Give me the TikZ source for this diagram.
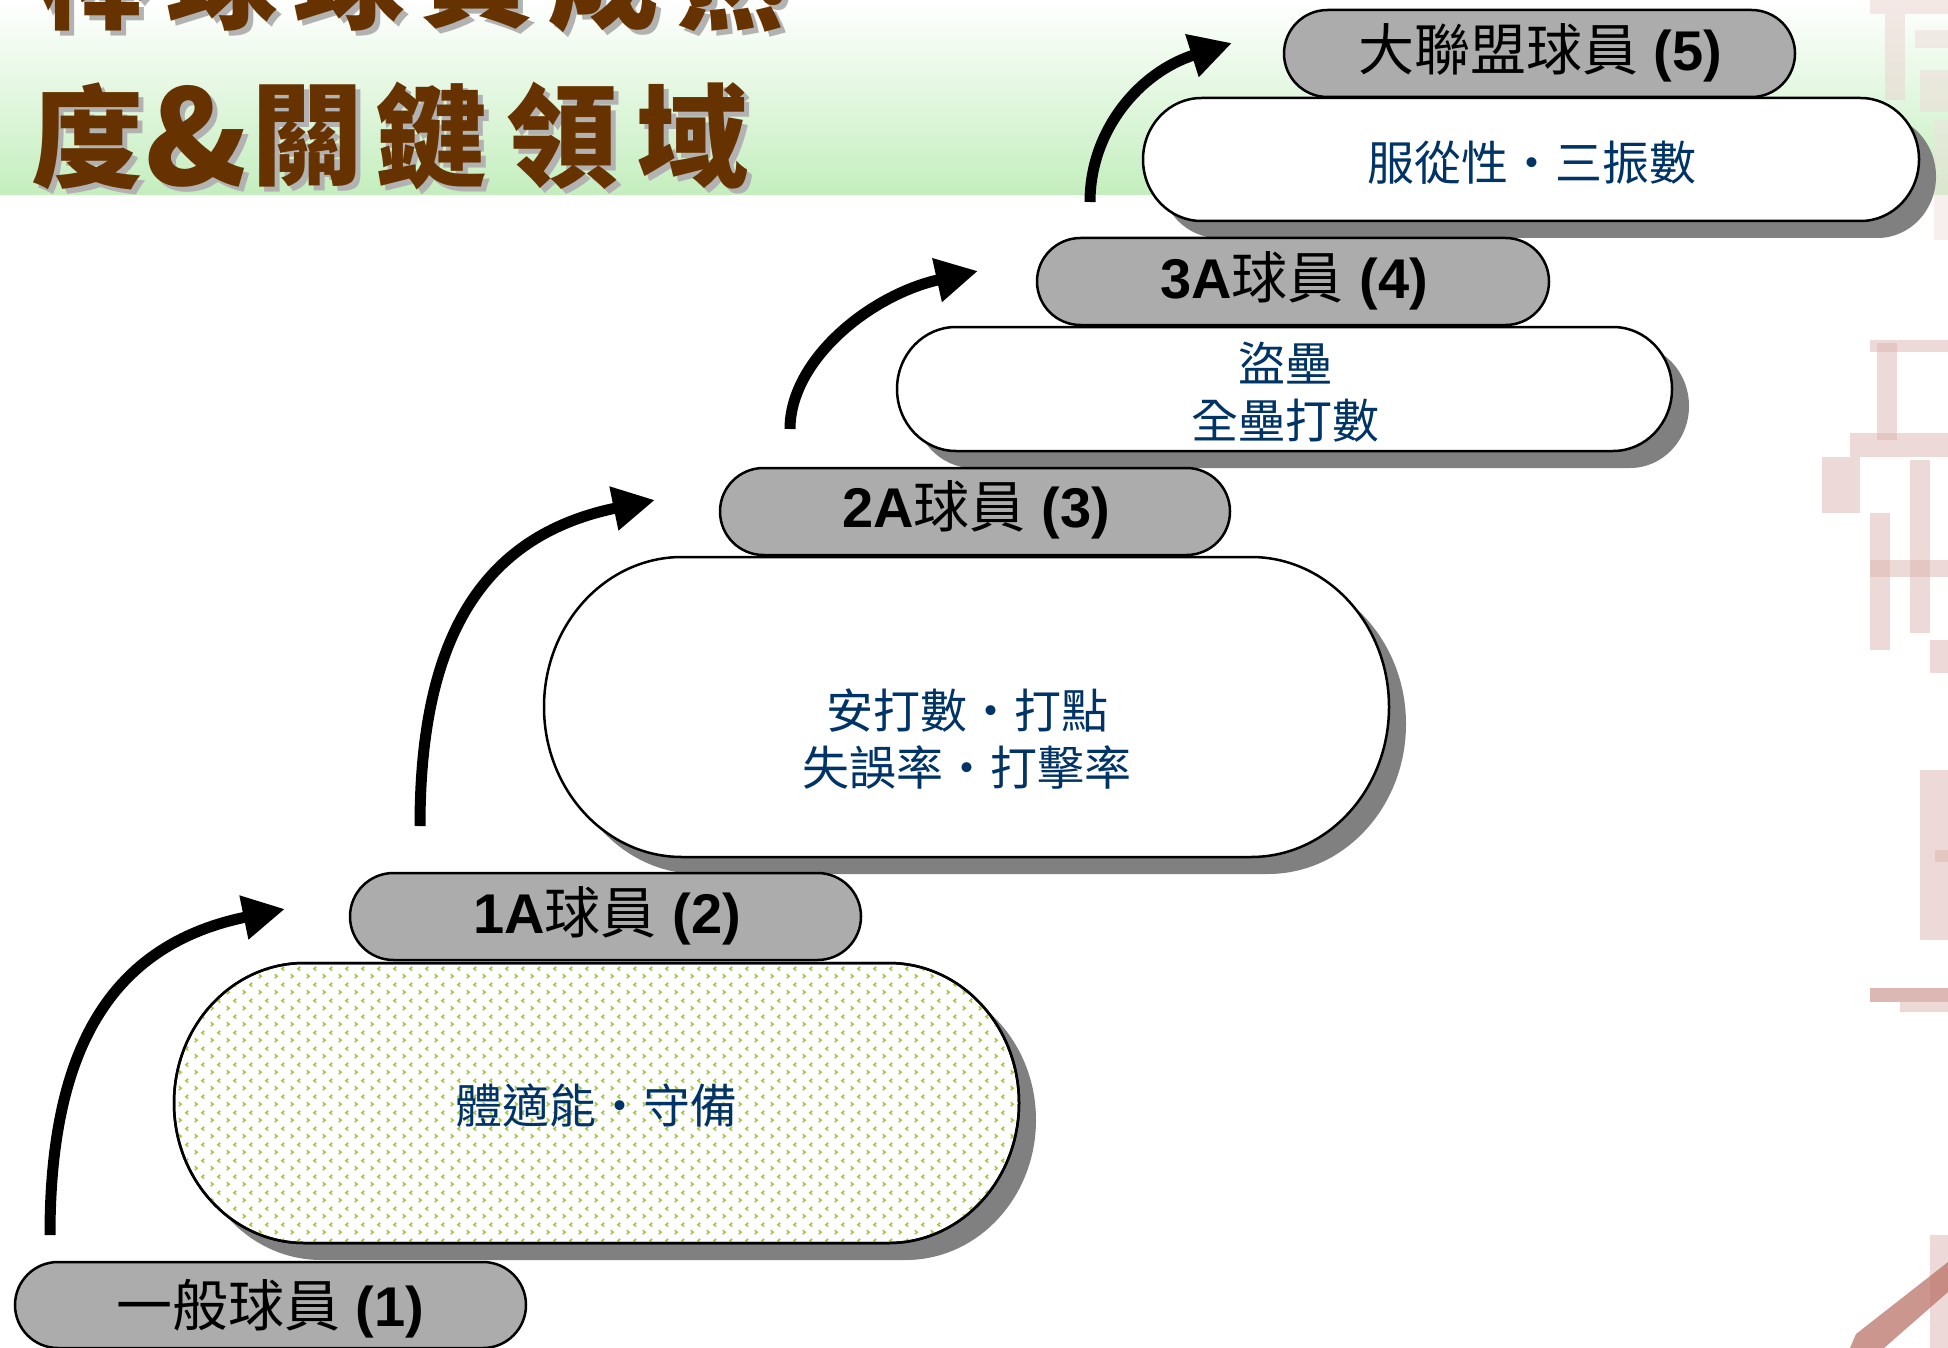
\documentclass[tikz,border=0pt]{standalone}
\usepackage{fontspec}
\setmainfont{Liberation Sans}
\newfontfamily\cjk{Noto Sans CJK TC}
\usetikzlibrary{arrows.meta,patterns}
\definecolor{bandg}{RGB}{196,238,190}
\definecolor{pillg}{RGB}{172,172,172}
\definecolor{shad}{RGB}{128,128,128}
\definecolor{navy}{RGB}{0,51,102}
\definecolor{brownt}{RGB}{102,51,0}
\definecolor{tshad}{RGB}{178,178,178}
\definecolor{chevc}{RGB}{160,205,40}
\definecolor{stampa}{RGB}{220,180,176}
\definecolor{stampb}{RGB}{185,115,105}

\pgfdeclarepatternformonly{chev}{\pgfqpoint{0pt}{0pt}}{\pgfqpoint{16pt}{16pt}}{\pgfqpoint{16pt}{16pt}}{%
 \pgfsetlinewidth{1.6pt}%
 \pgfpathmoveto{\pgfqpoint{3pt}{2pt}}\pgfpathlineto{\pgfqpoint{5.5pt}{4pt}}\pgfpathlineto{\pgfqpoint{3pt}{6pt}}%
 \pgfpathmoveto{\pgfqpoint{13pt}{10pt}}\pgfpathlineto{\pgfqpoint{10.5pt}{12pt}}\pgfpathlineto{\pgfqpoint{13pt}{14pt}}%
 \pgfusepath{stroke}}

% stadium: options, end factor, x1, y1, x2, y2 (image coordinates)
\newcommand\stadium[6]{%
 \pgfmathsetmacro\sry{(#6-#4)/2}%
 \pgfmathsetmacro\srx{#2*\sry}%
 \path[#1] (#3+\srx,#4) -- (#5-\srx,#4)
   arc[start angle=90,end angle=-90,x radius=\srx pt,y radius=\sry pt]
   -- (#3+\srx,#6)
   arc[start angle=270,end angle=90,x radius=\srx pt,y radius=\sry pt] -- cycle;}

\begin{document}
\begin{tikzpicture}[x=1pt,y=-1pt,
  pillstyle/.style={fill=pillg,draw=black,line width=2.5pt},
  bodystyle/.style={fill=white,draw=black,line width=2.5pt},
  shadstyle/.style={fill=shad,shift={(17,17)}},
  pilltxt/.style={inner sep=0pt,text=black,font=\fontsize{56}{60}\selectfont},
  bodytxt/.style={inner sep=0pt,text=navy,align=center,font=\cjk\fontsize{47}{57}\selectfont},
  ttl/.style={inner sep=0pt,text=brownt,font=\cjk\bfseries\fontsize{112}{120}\selectfont},
  ttlsh/.style={inner sep=0pt,text=tshad,font=\cjk\bfseries\fontsize{112}{120}\selectfont},
  amp/.style={inner sep=0pt,text=brownt,font=\cjk\bfseries\fontsize{132}{140}\selectfont},
  ampsh/.style={inner sep=0pt,text=tshad,font=\cjk\bfseries\fontsize{132}{140}\selectfont},
  arw/.style={line width=11pt,-{Triangle[length=42pt,width=42pt]}}]
\useasboundingbox (0,0) rectangle (1948,1348);
\clip (0,0) rectangle (1948,1348);
\fill[white] (0,0) rectangle (1948,1348);

% green title band
\shade[top color=white,bottom color=bandg] (0,0) rectangle (1948,195);

% faded seal at the right edge
\begin{scope}[opacity=0.5]
\fill[stampa!60] (1870,0) rectangle (1948,14);
\fill[stampa!60] (1885,14) rectangle (1905,100);
\fill[stampa!50] (1915,30) rectangle (1948,48);
\fill[stampa!50] (1920,70) rectangle (1948,112);
\fill[stampa!40] (1934,120) rectangle (1948,240);
\fill[stampa] (1870,340) rectangle (1948,352);
\fill[stampa] (1877,343) rectangle (1897,440);
\fill[stampa] (1850,433) rectangle (1948,457);
\fill[stampa] (1822,457) rectangle (1860,513);
\fill[stampa] (1870,513) rectangle (1890,650);
\fill[stampa] (1910,460) rectangle (1930,633);
\fill[stampa] (1870,560) rectangle (1948,577);
\fill[stampa] (1930,640) rectangle (1948,673);
\fill[stampa] (1920,770) rectangle (1948,940);
\fill[stampa] (1935,850) rectangle (1948,862);
\fill[stampb] (1870,988) rectangle (1948,1002);
\fill[stampa] (1900,1002) rectangle (1948,1012);
\fill[stampa] (1930,1235) rectangle (1948,1348);
\end{scope}
\begin{scope}[opacity=0.75]
\fill[stampb] (1850,1348) -- (1856,1334) -- (1948,1262) -- (1948,1292) -- (1884,1348) -- cycle;
\end{scope}

% title
\foreach \ch/\xx [count=\i] in {棒/95,球/222,球/349,員/476,成/603,熟/730}{
  \node[ttlsh] at (\xx+5,-17) {\ch};
  \node[ttl] (ta\i) at (\xx,-22) {\ch};}
\foreach \ch/\xx [count=\i] in {度/87,關/307,鍵/431,領/562,域/692}{
  \node[ttlsh] at (\xx+5,141) {\ch};
  \node[ttl] (tb\i) at (\xx,136) {\ch};}
\node[ampsh] at (202,141) {\&};
\node[amp] (tamp) at (197,136) {\&};

% level 5 and 4
\stadium{pillstyle}{1}{1284}{10}{1795}{97}
\stadium{shadstyle}{0.95}{1143}{98}{1919}{221}
\stadium{bodystyle}{0.95}{1143}{98}{1919}{221}
\stadium{pillstyle}{1}{1037}{238}{1549}{325}
% level 3
\stadium{shadstyle}{0.95}{897}{327}{1672}{451}
\stadium{bodystyle}{0.95}{897}{327}{1672}{451}
\stadium{pillstyle}{1}{720}{468}{1230}{555}
% level 2
\stadium{shadstyle}{0.92}{544}{557}{1389}{857}
\stadium{bodystyle}{0.92}{544}{557}{1389}{857}
\stadium{pillstyle}{1}{350}{873}{861}{960}
% level 1
\stadium{shadstyle}{0.93}{174}{963}{1019}{1243}
\stadium{bodystyle}{0.93}{174}{963}{1019}{1243}
\stadium{pattern=chev,pattern color=chevc}{0.93}{174}{963}{1019}{1243}
\stadium{draw=black,line width=2.5pt}{0.93}{174}{963}{1019}{1243}
\stadium{pillstyle}{1}{15}{1262}{526}{1348}

% labels
\node[pilltxt] (l5) at (1540,53) {{\cjk 大聯盟球員} \textbf{(5)}};
\node[pilltxt] (l4) at (1294,281) {\textbf{3A}{\cjk 球員} \textbf{(4)}};
\node[pilltxt] (l3) at (976,510) {\textbf{2A}{\cjk 球員} \textbf{(3)}};
\node[pilltxt] (l2) at (607,916) {\textbf{1A}{\cjk 球員} \textbf{(2)}};
\node[pilltxt] (l1) at (270,1309) {{\cjk 一般球員} \textbf{(1)}};

\node[bodytxt] (b4) at (1532,163) {服從性・三振數};
\node[bodytxt] (b3) at (1285,392) {盜壘\\全壘打數};
\node[bodytxt] (b2) at (967,739) {安打數・打點\\失誤率・打擊率};
\node[bodytxt] (b1) at (596,1106) {體適能・守備};

% arrows
\coordinate (a1s) at (50,1235);   \coordinate (a1e) at (285,909);
\coordinate (a2s) at (420,826);   \coordinate (a2e) at (655,500);
\coordinate (a3s) at (790,429);   \coordinate (a3e) at (978,271);
\coordinate (a4s) at (1090,202);  \coordinate (a4e) at (1232,43);
\draw[arw] (a1s) .. controls (50,1050) and (110,945) .. (a1e);
\draw[arw] (a2s) .. controls (420,641) and (480,536) .. (a2e);
\draw[arw] (a3s) .. controls (790,360) and (870,295) .. (a3e);
\draw[arw] (a4s) .. controls (1090,130) and (1140,72) .. (a4e);
\end{tikzpicture}
\end{document}
